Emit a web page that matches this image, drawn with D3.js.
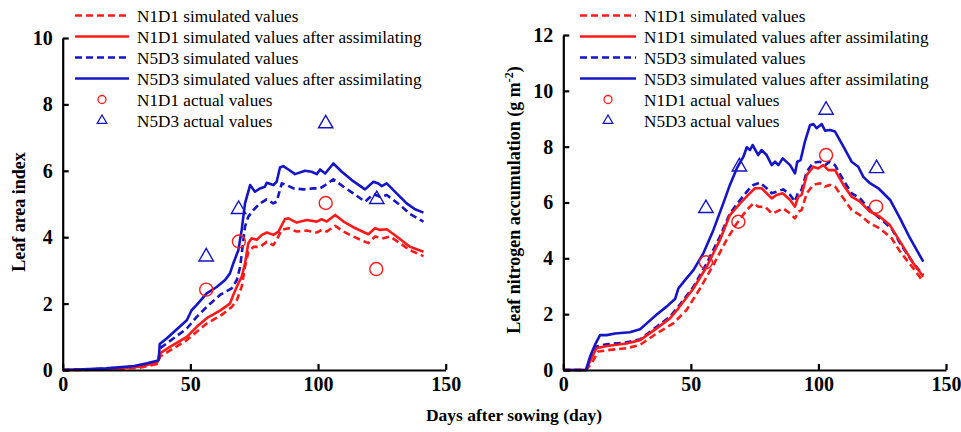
<!DOCTYPE html>
<html><head><meta charset="utf-8">
<script src="https://cdn.jsdelivr.net/npm/d3@7"></script>
<style>
body{margin:0;background:#fff;}
svg{display:block;}
</style></head>
<body>
<svg id="chart" width="961" height="432"></svg>
<script>
// ---------- Data ----------
const xTicks = [0, 50, 100, 150];
const laiTicks = [0, 2, 4, 6, 8, 10];
const lnaTicks = [0, 2, 4, 6, 8, 10, 12];

const seriesNames = ["N1D1 simulated values", "N1D1 simulated values after assimilating",
  "N5D3 simulated values", "N5D3 simulated values after assimilating",
  "N1D1 actual values", "N5D3 actual values"];

// Leaf area index (left panel): [day, value]
const laiN1D1Sim = [[0,0],[17,0.01],[30,0.07],[37,0.18],[38.1,0.4],[43.3,0.65],[48.6,0.9],[52.5,1.15],[56.4,1.4],[62.3,1.66],[66.2,1.9],[68.2,2.1],[70.1,2.51],[71.4,3.11],[72.7,3.56],[74.7,3.71],[77.3,3.71],[79.9,3.86],[82.5,3.76],[83.8,3.92],[85.8,4.22],[88.4,4.27],[91.6,4.17],[95.6,4.2],[99.5,4.14],[101.4,4.22],[103.4,4.17],[106.7,4.34],[110,4.17],[113.8,4.02],[119.7,3.82],[122.3,4.02],[125.6,3.97],[128.2,4.02],[132.1,3.82],[136,3.61],[141.3,3.43]];
const laiN1D1Assim = [[0,0],[17,0.02],[30,0.1],[37,0.22],[38.1,0.5],[42,0.7],[48.6,1.0],[52.5,1.3],[56.4,1.56],[61.6,1.79],[65.5,2.0],[66.8,2.26],[68.8,2.61],[70.1,2.81],[71.4,3.21],[72.7,3.82],[74,3.97],[76,3.92],[78,4.07],[80,4.14],[82.5,4.07],[84.5,4.17],[87,4.54],[88.4,4.57],[91.6,4.44],[95.6,4.52],[99.5,4.47],[101.4,4.54],[103.4,4.47],[106.7,4.67],[110,4.47],[113.8,4.3],[119.7,4.09],[122.3,4.27],[124.3,4.22],[126.9,4.24],[130.8,4.02],[136,3.71],[141.3,3.56]];
const laiN5D3Sim = [[0,0],[8,0.01],[17,0.04],[28,0.1],[33,0.17],[37,0.25],[37.6,0.27],[38,0.65],[40.7,0.8],[44.6,1.02],[48.6,1.25],[52.5,1.6],[56.4,1.9],[61.6,2.26],[66.2,2.46],[68.2,2.71],[69.5,3.11],[71.4,4.32],[72.7,4.62],[74.7,4.82],[77.3,5.02],[79.9,5.14],[82.5,5.02],[83.8,5.07],[85.8,5.62],[87.7,5.57],[90.4,5.47],[94.3,5.44],[98.2,5.47],[100.8,5.47],[102.8,5.57],[106,5.74],[110,5.52],[113.8,5.32],[118.4,5.07],[121.7,5.3],[124.3,5.22],[126.9,5.27],[132.1,4.97],[136,4.7],[141.3,4.47]];
const laiN5D3Assim = [[0,0],[8,0.02],[17,0.05],[28,0.12],[33,0.2],[37,0.28],[37.6,0.3],[38,0.78],[40.7,0.95],[44.6,1.22],[48.6,1.5],[50.5,1.8],[52.5,1.96],[56.4,2.31],[60.3,2.5],[63.6,2.71],[65.5,2.91],[66.8,3.21],[68.8,3.61],[70.1,4.22],[71.4,5.02],[73.4,5.57],[75.3,5.37],[77.3,5.47],[79.2,5.52],[79.9,5.64],[82.5,5.57],[83.8,5.67],[85.1,6.1],[86.4,6.14],[88.4,6.04],[91,5.9],[94.9,6.0],[97.5,5.97],[99.5,5.9],[100.8,6.04],[102.8,5.92],[106,6.22],[109.3,5.97],[113.2,5.72],[118.4,5.44],[121.7,5.67],[123.6,5.62],[124.9,5.54],[126.9,5.62],[129.5,5.42],[134.7,5.02],[138,4.84],[141.3,4.74]];
const laiN1D1Obs = [[56.2,2.42],[69,3.87],[103,5.03],[122.8,3.04]];
const laiN5D3Obs = [[56.2,3.41],[68.9,4.84],[103,7.42],[123,5.14]];

// Leaf nitrogen accumulation (right panel): [day, value]
const lnaN1D1Sim = [[0,0],[8.9,0],[11.1,0.24],[13.7,0.66],[18.3,0.72],[24.8,0.78],[30.1,0.9],[36.6,1.31],[43.1,1.67],[48.3,2.15],[53.6,2.92],[58.8,3.76],[64,4.66],[68,5.25],[71.9,5.73],[74.5,5.97],[76.4,5.85],[79.1,5.85],[81.7,5.61],[83.6,5.67],[86.2,5.79],[88.9,5.61],[90.8,5.43],[92.1,5.67],[93.4,5.73],[95.4,6.33],[98,6.63],[100.6,6.69],[102.6,6.57],[104.5,6.63],[106.5,6.57],[109.8,6.15],[113,5.73],[116.3,5.55],[120.2,5.25],[124.1,5.07],[128.7,4.72],[132,4.24],[137.2,3.64],[141.1,3.16]];
const lnaN1D1Assim = [[0,0],[8.9,0],[10.7,0.36],[13,0.78],[17,0.86],[24.8,0.95],[30.1,1.07],[36.6,1.49],[41.8,1.85],[45.1,2.21],[51,2.92],[56.2,3.7],[61.4,4.66],[65.3,5.55],[69.3,5.97],[72.5,6.27],[75.1,6.51],[77.7,6.51],[79.7,6.33],[81.7,6.15],[83.6,6.27],[86,6.33],[88.9,6.09],[90.8,5.85],[92.1,6.21],[93.4,6.27],[95.4,6.98],[98,7.28],[99.9,7.22],[101.9,7.34],[103.9,7.16],[106.5,7.16],[109.8,6.63],[113,6.21],[116.3,6.03],[120.2,5.67],[124.1,5.49],[128,5.19],[132,4.6],[137.2,3.82],[141.1,3.34]];
const lnaN5D3Sim = [[0,0],[8.9,0],[10.7,0.42],[13,0.84],[17,0.92],[24.8,0.99],[30.1,1.1],[36.6,1.55],[41.8,1.91],[45.1,2.27],[51,2.98],[56.2,3.82],[61.4,4.78],[65.3,5.61],[69.3,6.09],[72.5,6.45],[74.5,6.63],[77.1,6.71],[79.7,6.51],[81.7,6.33],[83.6,6.39],[86.2,6.47],[88.9,6.27],[90.8,6.03],[92.1,6.39],[93.4,6.45],[95.4,7.1],[98,7.43],[100.6,7.46],[102.6,7.34],[104.5,7.46],[106.5,7.34],[109.8,6.8],[113,6.33],[116.3,6.15],[120.2,5.73],[124.1,5.43],[128.7,5.07],[132,4.54],[137.2,3.82],[141.1,3.4]];
const lnaN5D3Assim = [[0,0],[8.9,0],[10.5,0.48],[12.4,0.9],[14.4,1.25],[17,1.25],[20.3,1.31],[26.1,1.35],[30.1,1.46],[32.7,1.67],[36.6,1.99],[40.5,2.27],[43.8,2.54],[45.1,2.92],[47.7,3.22],[51,3.58],[54.9,4.18],[58.8,5.01],[62.7,5.97],[65.3,6.63],[68,7.22],[70.6,7.64],[71.9,7.98],[73.2,7.88],[74.2,8.06],[76.4,7.7],[77.7,7.88],[79.7,7.7],[81.7,7.34],[83,7.46],[84.3,7.34],[86,7.58],[88.9,7.34],[90.8,7.04],[91.7,7.46],[93,7.52],[94.7,8.18],[96.7,8.77],[98,8.81],[99.3,8.66],[101.3,8.81],[102.6,8.57],[104.5,8.6],[106.5,8.54],[109.8,8.0],[113,7.46],[115.6,7.28],[117.6,6.92],[120.2,6.69],[123.5,6.51],[128.1,6.09],[132,5.43],[135.9,4.72],[141.1,3.88]];
const lnaN1D1Obs = [[55.9,3.86],[68.6,5.31],[103,7.7],[122.6,5.85]];
const lnaN5D3Obs = [[55.9,5.79],[69,7.28],[103,9.31],[122.8,7.22]];

// ---------- Drawing ----------
const RED = "#ff1a1a", BLUE = "#1414c8";
const svg = d3.select("#chart");
const FONT = "'Liberation Serif','Times New Roman',serif";

function panel(cfg) {
  const x = d3.scaleLinear().domain([0,150]).range([cfg.x0, cfg.x1]);
  const y = d3.scaleLinear().domain([0, cfg.ymax]).range([370, cfg.ytop]);
  const g = svg.append("g");

  const line = d3.line().x(d=>x(d[0])).y(d=>y(d[1]));
  const lines = [
    {data: cfg.n1sim, color: RED, dash: "7,4"},
    {data: cfg.n5sim, color: BLUE, dash: "7,4"},
    {data: cfg.n1as, color: RED, dash: null},
    {data: cfg.n5as, color: BLUE, dash: null}
  ];
  lines.forEach(l => {
    g.append("path").datum(l.data).attr("d", line)
      .attr("fill","none").attr("stroke", l.color).attr("stroke-width", 2.6)
      .attr("stroke-linejoin","round")
      .attr("stroke-dasharray", l.dash);
  });

  g.selectAll("circle.obs").data(cfg.n1obs).join("circle")
    .attr("cx", d=>x(d[0])).attr("cy", d=>y(d[1])).attr("r", 6.5)
    .attr("fill","none").attr("stroke", RED).attr("stroke-width", 1.4);
  const tri = d3.symbol().type(d3.symbolTriangle).size(90);
  g.selectAll("path.tri").data(cfg.n5obs).join("path")
    .attr("transform", d=>`translate(${x(d[0])},${y(d[1])})`)
    .attr("d", tri).attr("fill","none").attr("stroke", BLUE).attr("stroke-width", 1.4);

  // axes
  const xa = g.append("g").attr("transform", `translate(0,370)`)
    .call(d3.axisBottom(x).tickValues(xTicks).tickSize(-6).tickSizeOuter(0).tickPadding(7));
  const ya = g.append("g").attr("transform", `translate(${cfg.x0},0)`)
    .call(d3.axisLeft(y).tickValues(cfg.yticks).tickSize(-6).tickSizeOuter(0).tickPadding(10));
  [xa, ya].forEach(a => {
    a.select(".domain").attr("stroke","#000").attr("stroke-width",2.2);
    a.selectAll(".tick line").attr("stroke","#000").attr("stroke-width",2.2);
    a.selectAll(".tick text").attr("font-family", FONT).attr("font-weight","bold")
      .attr("font-size", 20).attr("fill","#000");
  });

  // y title
  const yt = g.append("text")
    .attr("transform", `translate(${cfg.ytx},${cfg.ytc}) rotate(-90)`)
    .attr("text-anchor","middle").attr("font-family", FONT).attr("font-weight","bold")
    .attr("font-size", 18).attr("fill","#000");
  yt.append("tspan").text(cfg.ytitle);
  if (cfg.ysup) {
    yt.append("tspan").text(cfg.ysup).attr("font-size", 12).attr("dy", -7);
    yt.append("tspan").text(")").attr("dy", 7);
  }

  // legend
  const rows = [15.5, 36.5, 57.5, 78.5, 99.5, 120.5];
  const lg = g.append("g");
  const kinds = [
    {color: RED, dash: "7,4", type: "line"},
    {color: RED, dash: null, type: "line"},
    {color: BLUE, dash: "7,4", type: "line"},
    {color: BLUE, dash: null, type: "line"},
    {color: RED, type: "circle"},
    {color: BLUE, type: "tri"}
  ];
  kinds.forEach((k, i) => {
    const yy = rows[i];
    const mid = (cfg.lx0 + cfg.lx1) / 2;
    if (k.type === "line") {
      lg.append("line").attr("x1", cfg.lx0).attr("x2", cfg.lx1).attr("y1", yy).attr("y2", yy)
        .attr("stroke", k.color).attr("stroke-width", 2.6).attr("stroke-dasharray", k.dash);
    } else if (k.type === "circle") {
      lg.append("circle").attr("cx", mid).attr("cy", yy).attr("r", 4)
        .attr("fill","none").attr("stroke", k.color).attr("stroke-width", 1.3);
    } else {
      lg.append("path").attr("transform", `translate(${mid},${yy})`)
        .attr("d", d3.symbol().type(d3.symbolTriangle).size(40))
        .attr("fill","none").attr("stroke", k.color).attr("stroke-width", 1.3);
    }
    lg.append("text").attr("x", cfg.lx1 + 8).attr("y", yy).attr("dy","0.35em")
      .attr("font-family", FONT).attr("font-size", 17.2).attr("fill","#000")
      .text(seriesNames[i]);
  });
}

panel({x0: 62.7, x1: 445.7, ymax: 10, ytop: 38, yticks: laiTicks, ytx: 25, ytc: 212,
  ytitle: "Leaf area index", lx0: 75, lx1: 129,
  n1sim: laiN1D1Sim, n1as: laiN1D1Assim, n5sim: laiN5D3Sim, n5as: laiN5D3Assim,
  n1obs: laiN1D1Obs, n5obs: laiN5D3Obs});

panel({x0: 563.3, x1: 946, ymax: 12, ytop: 35, yticks: lnaTicks, ytx: 520, ytc: 200,
  ytitle: "Leaf nitrogen accumulation (g m", ysup: "-2", lx0: 580, lx1: 636,
  n1sim: lnaN1D1Sim, n1as: lnaN1D1Assim, n5sim: lnaN5D3Sim, n5as: lnaN5D3Assim,
  n1obs: lnaN1D1Obs, n5obs: lnaN5D3Obs});

svg.append("text").attr("x", 514).attr("y", 421).attr("text-anchor","middle")
  .attr("font-family", FONT).attr("font-weight","bold").attr("font-size", 17.5)
  .text("Days after sowing (day)");
</script>
</body></html>
